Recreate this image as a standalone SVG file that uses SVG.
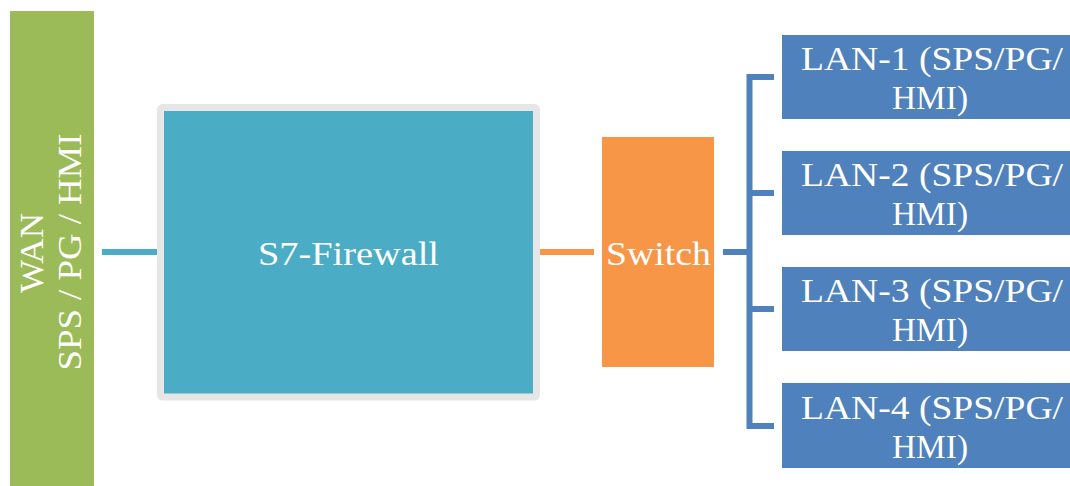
<svg xmlns="http://www.w3.org/2000/svg" width="1070" height="486" viewBox="0 0 1070 486">
<style>
.t{font-family:"Liberation Serif","DejaVu Serif",serif;fill:#fff;font-size:34px;text-anchor:middle}
.lan{fill:#4F81BD}
.lt{font-family:"Liberation Serif","DejaVu Serif",serif;fill:#fff;font-size:33px;text-anchor:middle}
</style>
<rect width="1070" height="486" fill="#fff"/>
<g id="connectors" fill="none" stroke-width="6">
<line x1="102" y1="252" x2="157" y2="252" stroke="#4BACC6"/>
<line x1="540" y1="252" x2="594" y2="252" stroke="#F79646"/>
<path d="M723 252H749.5M774 77H749.5V426H774M749.5 193H774M749.5 309H774" stroke="#4F81BD"/>
</g>
<g id="wan">
<rect x="10" y="11" width="84" height="480" fill="#9BBB59"/>
<text class="t" transform="translate(43,253) rotate(-90)" textLength="80" lengthAdjust="spacingAndGlyphs">WAN</text>
<text class="t" transform="translate(81,252) rotate(-90)" textLength="237" lengthAdjust="spacingAndGlyphs">SPS / PG / HMI</text>
</g>
<g id="firewall">
<rect x="160.5" y="107.5" width="376" height="289.5" rx="2" fill="#4BACC6" stroke="#E6E6E6" stroke-width="7"/>
<text class="t" x="348.5" y="265" textLength="181" lengthAdjust="spacingAndGlyphs">S7-Firewall</text>
</g>
<g id="switch">
<rect x="602" y="137" width="112" height="230" fill="#F79646"/>
<text class="t" x="658.5" y="265" textLength="105" lengthAdjust="spacingAndGlyphs">Switch</text>
</g>
<g id="lan1">
<rect class="lan" x="782" y="35" width="300" height="84"/>
<text class="lt" x="932" y="70" textLength="262" lengthAdjust="spacingAndGlyphs">LAN-1 (SPS/PG/</text>
<text class="lt" x="930" y="109" textLength="76" lengthAdjust="spacingAndGlyphs">HMI)</text>
</g>
<g id="lan2">
<rect class="lan" x="782" y="151" width="300" height="84"/>
<text class="lt" x="932" y="186" textLength="262" lengthAdjust="spacingAndGlyphs">LAN-2 (SPS/PG/</text>
<text class="lt" x="930" y="225" textLength="76" lengthAdjust="spacingAndGlyphs">HMI)</text>
</g>
<g id="lan3">
<rect class="lan" x="782" y="267" width="300" height="84"/>
<text class="lt" x="932" y="302" textLength="262" lengthAdjust="spacingAndGlyphs">LAN-3 (SPS/PG/</text>
<text class="lt" x="930" y="341" textLength="76" lengthAdjust="spacingAndGlyphs">HMI)</text>
</g>
<g id="lan4">
<rect class="lan" x="782" y="383" width="300" height="85"/>
<text class="lt" x="932" y="419" textLength="262" lengthAdjust="spacingAndGlyphs">LAN-4 (SPS/PG/</text>
<text class="lt" x="930" y="458" textLength="76" lengthAdjust="spacingAndGlyphs">HMI)</text>
</g>
</svg>
